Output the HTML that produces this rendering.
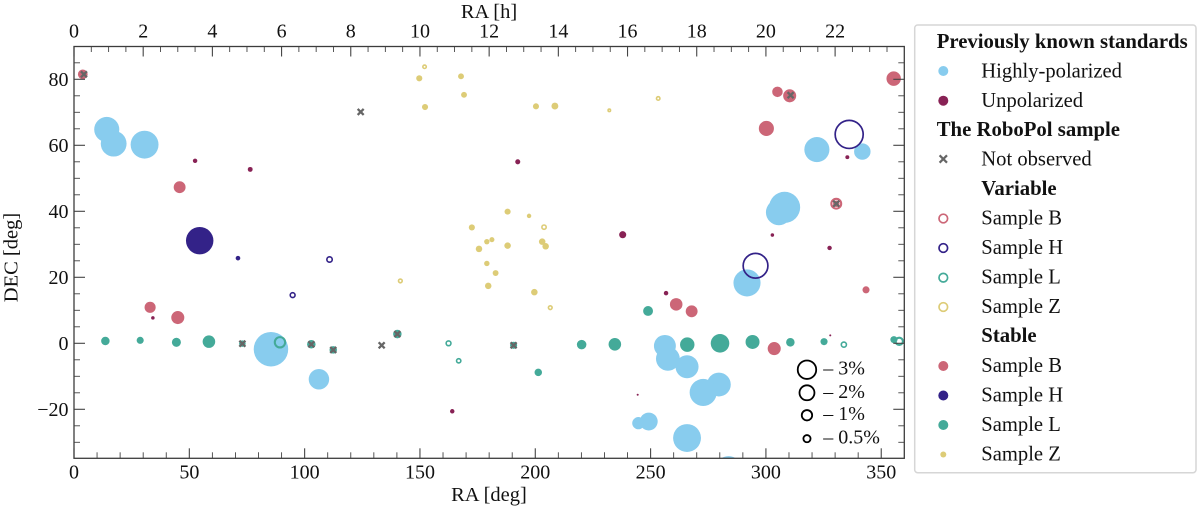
<!DOCTYPE html>
<html lang="en">
<head>
<meta charset="utf-8">
<title>RoboPol standards sky map</title>
<style>
html,body{margin:0;padding:0;background:#fff;width:1200px;height:510px;overflow:hidden}
svg{display:block;filter:blur(0.35px)}
text{font-family:"Liberation Serif","DejaVu Serif",serif;fill:#111}
.tick{font-size:20px}
.axis{font-size:20.5px}
.leg{font-size:20.6px}
.legb{font-size:20.75px;font-weight:bold}
.key{font-size:20px}
</style>
</head>
<body>
<svg id="chart" xmlns="http://www.w3.org/2000/svg" width="1200" height="510" viewBox="0 0 1200 510">
  <defs><clipPath id="plot-clip"><rect x="74" y="46.5" width="830.3" height="411.8"/></clipPath></defs>
  <rect x="74" y="46.5" width="830.3" height="411.8" fill="#fff"/>
  <g id="marks" clip-path="url(#plot-clip)"></g>
  <g id="size-key"></g>
  <g id="axes"></g>
  <rect x="74" y="46.5" width="830.3" height="411.8" fill="none" stroke="#3c3c3c" stroke-width="1.3"/>

  <text class="axis" x="489" y="18" text-anchor="middle">RA [h]</text>
  <text class="axis" x="489" y="501" text-anchor="middle">RA [deg]</text>
  <text class="axis" transform="translate(17.5,257.5) rotate(-90)" text-anchor="middle">DEC [deg]</text>

  <g>
    <rect x="914.7" y="25" width="281.3" height="447.7" rx="3" ry="3" fill="#fff" stroke="#d6d6d6" stroke-width="1.5"/>
    <text class="legb" x="936.7" y="48">Previously known standards</text>
    <circle cx="943.3" cy="71" r="5" fill="#88CCEE"/>
    <text class="leg" x="981.3" y="77.5">Highly-polarized</text>
    <circle cx="943.3" cy="100.7" r="5" fill="#882255"/>
    <text class="leg" x="981.3" y="107">Unpolarized</text>
    <text class="legb" x="936.7" y="136">The RoboPol sample</text>
    <g stroke="#666" stroke-width="2.2"><line x1="939.6" y1="155.3" x2="947" y2="162.7"/><line x1="939.6" y1="162.7" x2="947" y2="155.3"/></g>
    <text class="leg" x="981.3" y="165.5">Not observed</text>
    <text class="legb" x="981.3" y="195">Variable</text>
    <circle cx="943.3" cy="218.5" r="4.3" fill="none" stroke="#CC6677" stroke-width="1.7"/>
    <text class="leg" x="981.3" y="224.5">Sample B</text>
    <circle cx="943.3" cy="248" r="4.3" fill="none" stroke="#332288" stroke-width="1.7"/>
    <text class="leg" x="981.3" y="254">Sample H</text>
    <circle cx="943.3" cy="277.7" r="4.3" fill="none" stroke="#44AA99" stroke-width="1.7"/>
    <text class="leg" x="981.3" y="283.5">Sample L</text>
    <circle cx="943.3" cy="307" r="4.3" fill="none" stroke="#DDCC77" stroke-width="1.7"/>
    <text class="leg" x="981.3" y="313">Sample Z</text>
    <text class="legb" x="981.3" y="342">Stable</text>
    <circle cx="943.3" cy="366" r="5" fill="#CC6677"/>
    <text class="leg" x="981.3" y="372">Sample B</text>
    <circle cx="943.3" cy="395.5" r="5" fill="#332288"/>
    <text class="leg" x="981.3" y="401.5">Sample H</text>
    <circle cx="943.3" cy="425" r="5" fill="#44AA99"/>
    <text class="leg" x="981.3" y="431">Sample L</text>
    <circle cx="943.3" cy="454.5" r="3" fill="#DDCC77"/>
    <text class="leg" x="981.3" y="460.5">Sample Z</text>
  </g>
</svg>
<script>
// Tick labels / positions (axis units)
var raDegTicks = [0, 50, 100, 150, 200, 250, 300, 350];
var raDegMinorTicks = [10,20,30,40,60,70,80,90,110,120,130,140,160,170,180,190,210,220,230,240,260,270,280,290,310,320,330,340];
var raHourTicks = [0, 2, 4, 6, 8, 10, 12, 14, 16, 18, 20, 22];
var raHourMinorTicks = [0.5,1,1.5,2.5,3,3.5,4.5,5,5.5,6.5,7,7.5,8.5,9,9.5,10.5,11,11.5,12.5,13,13.5,14.5,15,15.5,16.5,17,17.5,18.5,19,19.5,20.5,21,21.5,22.5,23,23.5];
var decTicks = [-20, 0, 20, 40, 60, 80];
var decMinorTicks = [-30,-25,-15,-10,-5,5,10,15,25,30,35,45,50,55,65,70,75,85];

// Highly-polarized standards
var raHighPol = [14.2,17.2,30.6,85.4,106.2,256.2,257.5,265.8,279.6,272.8,244.7,249.2,265.8,283.8,291.8,308.1,305.6,322.1,341.8];
var decHighPol = [64.8,60.5,60.2,-1.8,-10.9,-0.8,-4.7,-7.1,-12.5,-14.9,-24.2,-23.7,-28.7,-37.9,18.3,41.2,39.7,58.7,58.1];
var polHighPol = [5.0,5.3,6.2,9.55,3.3,3.8,4.5,4.2,4.5,5.85,1.15,2.5,6.2,4.8,5.85,7.75,5.3,5.0,2.1];

// Unpolarized standards
var raUnpol = [52.5,76.4,34.2,164,192.4,237.9,302.8,327.6,335.3,256.7,244.4,327.9];
var decUnpol = [55.3,52.7,7.7,-20.6,55,32.9,32.8,28.9,56.4,15.2,-15.6,2.4];
var polUnpol = [0.13,0.16,0.075,0.13,0.17,0.36,0.075,0.13,0.1,0.13,0.02,0.02];

// Stable samples
var raStableB = [3.8,45.8,33,45,305,310.3,300.2,355.4,343.4,261.1,267.8,303.6,330.5];
var decStableB = [81.5,47.3,10.9,7.8,76.2,75,65.1,80.2,16.2,11.8,9.7,-1.6,42.3];
var polStableB = [0.7,1.07,0.93,1.3,0.83,1.3,1.76,1.6,0.36,1.2,1.07,1.3,0.3];

var raStableH = [54.5,71.1];
var decStableH = [31.1,25.8];
var polStableH = [6,0.14];

var raStableL = [13.6,28.7,44.4,58.5,73,102.9,112.4,140.2,190.6,201.3,220.1,234.5,265.9,280.1,294.2,310.6,325.2,355.5,248.9];
var decStableL = [0.7,0.9,0.3,0.5,-0.1,-0.3,-2,2.8,-0.6,-8.8,-0.4,-0.3,-0.4,0,0.4,0.3,0.5,1.1,9.8];
var polStableL = [0.53,0.36,0.6,1.2,0.3,0.53,0.4,0.53,0.36,0.4,0.67,1.2,1.6,2.7,1.5,0.53,0.36,0.36,0.73];

var raStableZ = [149.7,152.2,167.8,169.1,200.3,208.5,188,197.3,172.5,179,181.2,175.6,188,203,204.5,179,182.8,179.6,199.6];
var decStableZ = [80.3,71.6,80.9,75.3,71.8,71.9,39.9,38.6,35.1,30.8,31.4,28.6,29.6,30.8,29.4,24.2,21.3,17.4,15.5];
var polStableZ = [0.26,0.26,0.24,0.24,0.26,0.34,0.26,0.13,0.26,0.2,0.17,0.3,0.3,0.3,0.3,0.2,0.24,0.3,0.3];

// Variable samples
var raVarB = [330.5];
var decVarB = [42.3];
var polVarB = [1.1];

var raVarH = [94.8,110.8,336.1,295.5];
var decVarH = [14.6,25.4,63.3,23.5];
var polVarH = [0.3,0.36,7.1,5.6];

var raVarL = [89.3,162.4,166.8,333.8,357.8];
var decVarL = [0.3,0,-5.3,-0.4,0.6];
var polVarL = [1.2,0.3,0.25,0.33,0.67];

var raVarZ = [152,253.3,232.1,203.8,141.5,206.5];
var decVarZ = [83.8,74.2,70.6,35.2,18.9,10.8];
var polVarZ = [0.18,0.18,0.11,0.25,0.2,0.2];

// Not observed
var raNotObserved = [4.3,124.3,310.7,330.5,73,102.9,112.4,133.4,140.2,190.6];
var decNotObserved = [81.5,70.1,75.2,42.3,-0.1,-0.3,-2,-0.6,2.8,-0.6];

// Polarization size key
var sizeKeyPol = [3, 2, 1, 0.5];
var sizeKeyLabels = ['– 3%', '– 2%', '– 1%', '– 0.5%'];
var sizeKeyDec = [-8, -15, -21.8, -28.9];
var sizeKeyRa = 317.8;

var NS = 'http://www.w3.org/2000/svg';
function xDeg(ra) { return 74 + ra * (830.3 / 360); }
function xHour(h) { return 74 + h * (830.3 / 24); }
function yDec(dec) { return 343.3 - dec * 3.3; }
function rPol(p) { return 5.5 * Math.sqrt(p); }

var marks = document.getElementById('marks');
var axes = document.getElementById('axes');
var keyGroup = document.getElementById('size-key');

function circle(parent, name, cx, cy, r, fill, stroke, sw) {
  var el = document.createElementNS(NS, 'circle');
  
  
  el.setAttribute('cx', cx);
  el.setAttribute('cy', cy);
  el.setAttribute('r', r);
  el.setAttribute('fill', fill);
  if (stroke) {
    el.setAttribute('stroke', stroke);
    el.setAttribute('stroke-width', sw);
  }
  parent.appendChild(el);
}
function filled(name, color, ras, decs, pols) {
  for (var i = 0; i < ras.length; i++) {
    circle(marks, name, xDeg(ras[i]), yDec(decs[i]), rPol(pols[i]) + 0.25, color);
  }
}
function ring(name, color, ras, decs, pols) {
  for (var i = 0; i < ras.length; i++) {
    var r = rPol(pols[i]) + 0.2;
    var sw = r < 4 ? 1.6 : (r < 8 ? 2.1 : 1.7);
    circle(marks, name, xDeg(ras[i]), yDec(decs[i]), r - sw / 2, 'none', color, sw);
  }
}
filled('highly-polarized-point', '#88CCEE', raHighPol, decHighPol, polHighPol);
filled('unpolarized-point', '#882255', raUnpol, decUnpol, polUnpol);
filled('stable-b-point', '#CC6677', raStableB, decStableB, polStableB);
filled('stable-h-point', '#332288', raStableH, decStableH, polStableH);
filled('stable-l-point', '#44AA99', raStableL, decStableL, polStableL);
filled('stable-z-point', '#DDCC77', raStableZ, decStableZ, polStableZ);
ring('variable-b-point', '#CC6677', raVarB, decVarB, polVarB);
ring('variable-h-point', '#332288', raVarH, decVarH, polVarH);
ring('variable-l-point', '#44AA99', raVarL, decVarL, polVarL);
ring('variable-z-point', '#DDCC77', raVarZ, decVarZ, polVarZ);

for (var n = 0; n < raNotObserved.length; n++) {
  var g = document.createElementNS(NS, 'path');
  
  
  var cx = xDeg(raNotObserved[n]), cy = yDec(decNotObserved[n]), h = 3;
  g.setAttribute('d', 'M' + (cx - h) + ' ' + (cy - h) + 'L' + (cx + h) + ' ' + (cy + h) + 'M' + (cx - h) + ' ' + (cy + h) + 'L' + (cx + h) + ' ' + (cy - h));
  g.setAttribute('stroke', '#666');
  g.setAttribute('stroke-width', '2.3');
  g.setAttribute('fill', 'none');
  marks.appendChild(g);
}

for (var k = 0; k < sizeKeyPol.length; k++) {
  var kr = rPol(sizeKeyPol[k]);
  circle(keyGroup, 'size-key-ring', xDeg(sizeKeyRa), yDec(sizeKeyDec[k]), kr - 0.3, 'none', '#000', 1.8);
  var kt = document.createElementNS(NS, 'text');
  
  
  kt.setAttribute('class', 'key');
  kt.setAttribute('x', 823.3);
  kt.setAttribute('y', yDec(sizeKeyDec[k]) + 5);
  kt.textContent = sizeKeyLabels[k];
  keyGroup.appendChild(kt);
}

function tick(name, x1, y1, x2, y2, w) {
  var el = document.createElementNS(NS, 'line');
  
  
  el.setAttribute('x1', x1);
  el.setAttribute('y1', y1);
  el.setAttribute('x2', x2);
  el.setAttribute('y2', y2);
  el.setAttribute('stroke', '#444');
  el.setAttribute('stroke-width', w);
  axes.appendChild(el);
}
function label(name, x, y, anchor, str) {
  var el = document.createElementNS(NS, 'text');
  
  
  el.setAttribute('class', 'tick');
  el.setAttribute('x', x);
  el.setAttribute('y', y);
  el.setAttribute('text-anchor', anchor);
  el.textContent = str;
  axes.appendChild(el);
}
var TOP = 46.5, BOT = 458.3, LEFT = 74, RIGHT = 904.3;
raDegTicks.forEach(function (v) {
  tick('x-tick-bottom', xDeg(v), BOT, xDeg(v), BOT - 10, 1.1);
  label('x-tick-label-bottom', xDeg(v), 478.5, 'middle', String(v));
});
raDegMinorTicks.forEach(function (v) {
  tick('x-minor-tick-bottom', xDeg(v), BOT, xDeg(v), BOT - 6, 0.9);
});
raHourTicks.forEach(function (v) {
  tick('x-tick-top', xHour(v), TOP, xHour(v), TOP + 10, 1.1);
  label('x-tick-label-top', xHour(v), 37.5, 'middle', String(v));
});
raHourMinorTicks.forEach(function (v) {
  tick('x-minor-tick-top', xHour(v), TOP, xHour(v), TOP + 5.5, 0.9);
});
decTicks.forEach(function (v) {
  tick('y-tick-left', LEFT, yDec(v), LEFT + 11, yDec(v), 1.1);
  tick('y-tick-right', RIGHT, yDec(v), RIGHT - 11, yDec(v), 1.1);
  label('y-tick-label', 68.5, yDec(v) + 6.5, 'end', v < 0 ? '\u2212' + Math.abs(v) : String(v));
});
decMinorTicks.forEach(function (v) {
  tick('y-minor-tick-left', LEFT, yDec(v), LEFT + 6, yDec(v), 0.9);
  tick('y-minor-tick-right', RIGHT, yDec(v), RIGHT - 6, yDec(v), 0.9);
});
</script>
</body>
</html>
